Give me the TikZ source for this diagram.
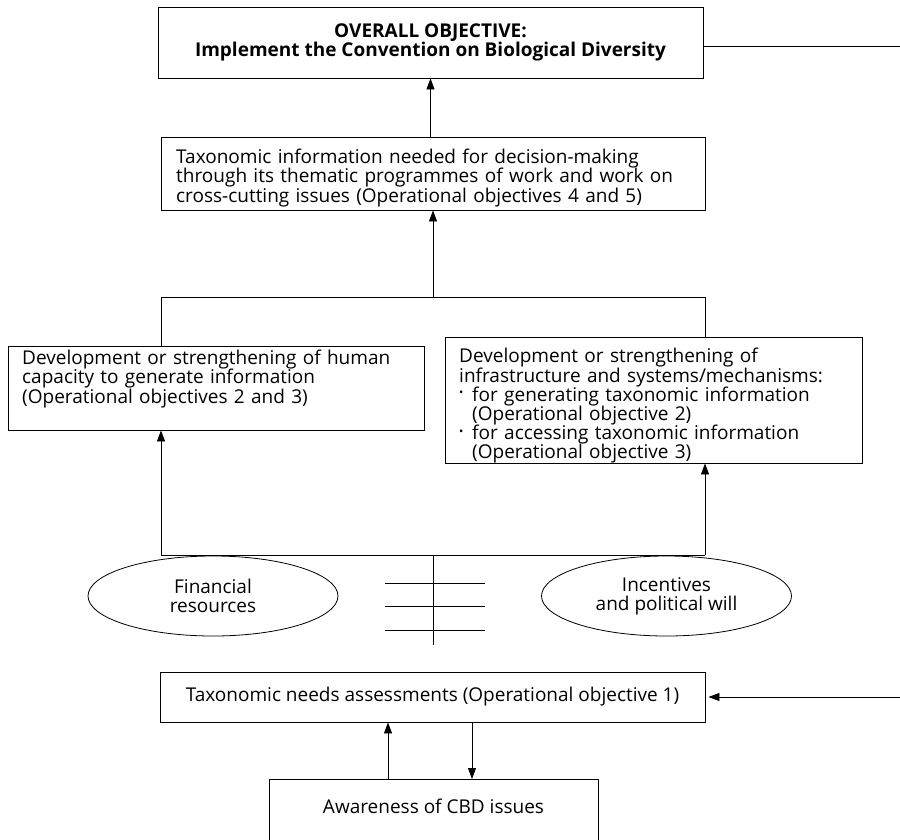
\documentclass[tikz,border=0pt]{standalone}
\usepackage{fontspec}
\setmainfont{Open Sans}
\usetikzlibrary{arrows.meta,shapes.geometric}
\newcommand{\txtfont}{\fontsize{19}{19.2}\selectfont}
\newcommand{\bul}{\makebox[13pt][l]{\raisebox{0.45ex}{\scalebox{0.6}{\textbullet}}}}
\tikzset{
  box/.style={draw, line width=0.9pt, rectangle, inner sep=0pt, font=\txtfont},
  txt/.style={inner sep=0pt, align=left, anchor=west, font=\txtfont},
  conn/.style={line width=0.8pt},
  arr/.style={conn, -{Triangle[length=11pt,width=8pt]}},
  oval/.style={draw, line width=0.8pt, ellipse, minimum width=250pt, minimum height=80pt, align=center, font=\txtfont, inner sep=0pt},
}
\begin{document}
\begin{tikzpicture}[x=1pt,y=-1pt]
\useasboundingbox (0,0) rectangle (900,839);
\clip (0,0) rectangle (900,839);
\node[box, minimum width=545, minimum height=71, align=center, font=\txtfont\bfseries] (top) at (430.5,42.5)
  {OVERALL OBJECTIVE:\\Implement the Convention on Biological Diversity};
\node[box, minimum width=544, minimum height=73] (tax) at (433,173.5) {};
\node[txt, text width=520] (taxt) at (176,178)
  {Taxonomic information needed for decision-making\\through its thematic programmes of work and work on\\cross-cutting issues (Operational objectives 4 and 5)};
\node[box, minimum width=416, minimum height=84] (hum) at (216,388) {};
\node[txt, text width=395] (humt) at (22,379)
  {Development or strengthening of human\\capacity to generate information\\(Operational objectives 2 and 3)};
\node[box, minimum width=417, minimum height=126] (inf) at (653.5,400) {};
\node[txt, text width=395] (inft) at (459,406)
  {Development or strengthening of\\infrastructure and systems/mechanisms:\\
   \bul for generating taxonomic information\\
   \hspace*{13pt}(Operational objective 2)\\
   \bul for accessing taxonomic information\\
   \hspace*{13pt}(Operational objective 3)};
\node[oval] (fin) at (213,596) {Financial\\resources};
\node[oval] (inc) at (666.5,596) {Incentives\\and political will};
\node[box, minimum width=545, minimum height=50] (tna) at (432.5,697)
  {Taxonomic needs assessments (Operational objective 1)};
\node[box, anchor=north, minimum width=329, text height=34, text depth=60] (aw) at (433.5,779)
  {Awareness of CBD issues};
% coordinates
\coordinate (r1) at (900,46);
\coordinate (r2) at (900,697);
\coordinate (j1) at (433,297);
\coordinate (jl) at (161,297);
\coordinate (jr) at (705,297);
\coordinate (bl) at (161,555);
\coordinate (br) at (705,555);
\coordinate (bm) at (433,555);
\coordinate (be) at (433,645);
\coordinate (h1a) at (385,583); \coordinate (h1b) at (485,583);
\coordinate (h2a) at (385,606); \coordinate (h2b) at (485,606);
\coordinate (h3a) at (385,630); \coordinate (h3b) at (485,630);
\coordinate (up) at (388,779);
\coordinate (dn) at (472,722);
% connectors
\draw[conn] (top.east |- r1) -- (r1);
\draw[arr] (tax.north -| top.south) -- (top.south);
\draw[arr] (j1) -- (tax.south);
\draw[conn] (jl |- hum.north) -- (jl) -- (jr) -- (jr |- inf.north);
\draw[arr] (bl) -- (bl |- hum.south);
\draw[arr] (br) -- (br |- inf.south);
\draw[conn] (bl) -- (br);
\draw[conn] (bm) -- (be);
\draw[conn] (h1a) -- (h1b);
\draw[conn] (h2a) -- (h2b);
\draw[conn] (h3a) -- (h3b);
\draw[arr] (r2) -- ([xshift=3pt]tna.east);
\draw[arr] (up |- aw.north) -- (up |- tna.south);
\draw[arr] (dn |- tna.south) -- (dn |- aw.north);
\end{tikzpicture}
\end{document}
